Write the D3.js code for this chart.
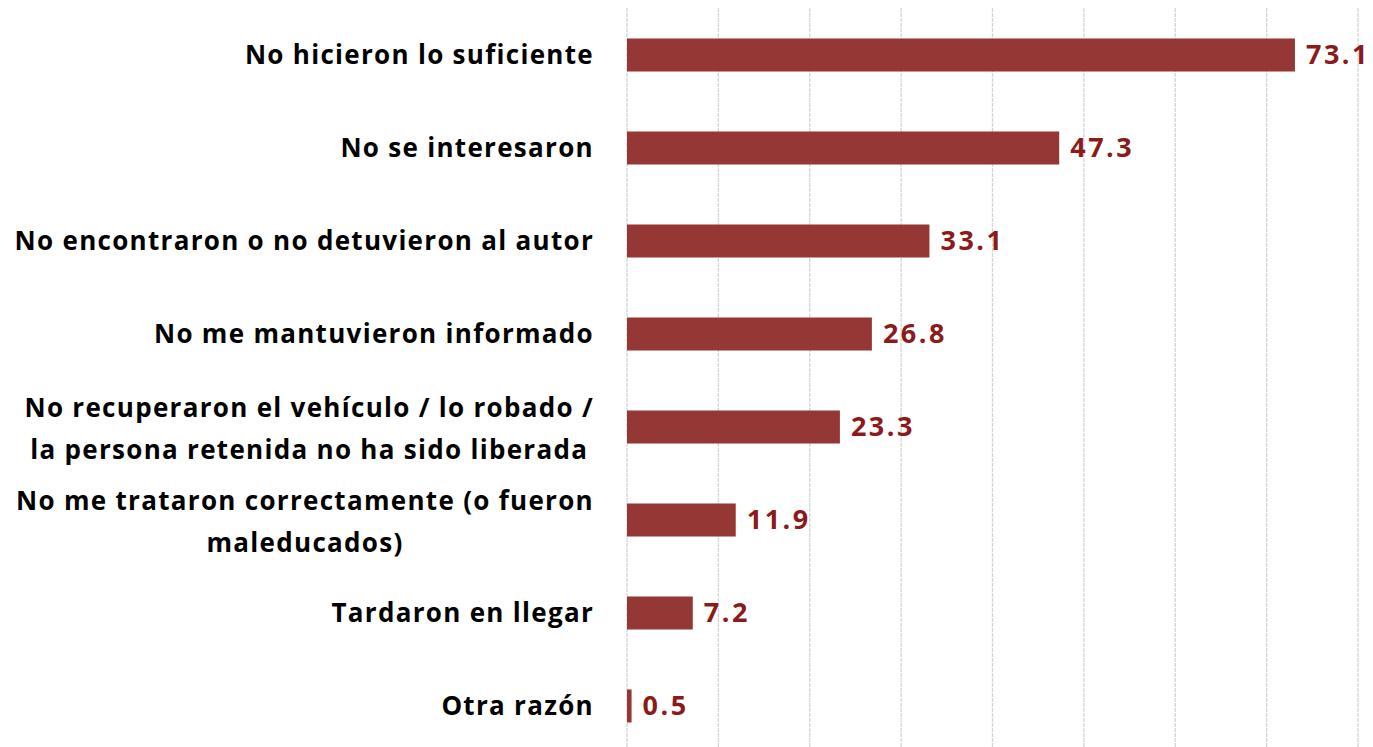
<!DOCTYPE html>
<html>
<head>
<meta charset="utf-8">
<script src="https://cdn.jsdelivr.net/npm/d3@7"></script>
<style>
  body { margin: 0; background: #fff; }
  text { font-family: "Open Sans", Lato, sans-serif; font-weight: bold; }
</style>
</head>
<body>
<div id="chart"></div>
<script>
// data
var categories = [
  ["No hicieron lo suficiente"],
  ["No se interesaron"],
  ["No encontraron o no detuvieron al autor"],
  ["No me mantuvieron informado"],
  ["No recuperaron el vehículo / lo robado /", "la persona retenida no ha sido liberada"],
  ["No me trataron correctamente (o fueron", "maleducados)"],
  ["Tardaron en llegar"],
  ["Otra razón"]
];
var values = [73.1, 47.3, 33.1, 26.8, 23.3, 11.9, 7.2, 0.5];
var gridTicks = [0, 10, 20, 30, 40, 50, 60, 70, 80];

var svgWidth = 1373;
var svgHeight = 747;

var margin = { top: 8, right: 15, bottom: 0, left: 627 };

var svg = d3.select("#chart")
  .append("svg")
  .attr("width", svgWidth)
  .attr("height", svgHeight);

var chartGroup = svg.append("g")
  .attr("transform", `translate(${margin.left}, 0)`);

var xScale = d3.scaleLinear()
  .domain([0, 80])
  .range([0, 731]);

var idx = d3.range(values.length);
var yScale = d3.scaleBand()
  .domain(idx)
  .range([8.5, 8.5 + 93 * values.length])
  .paddingInner(0.645)
  .paddingOuter(0.3225);

// gridlines
chartGroup.selectAll("line.grid")
  .data(gridTicks)
  .enter()
  .append("line")
  .attr("class", "grid")
  .attr("x1", d => xScale(d))
  .attr("x2", d => xScale(d))
  .attr("y1", margin.top)
  .attr("y2", svgHeight)
  .attr("stroke", "#d4d4d4")
  .attr("stroke-width", 1.3)
  .attr("stroke-dasharray", "4,1");

// bars
chartGroup.selectAll("rect.bar")
  .data(idx)
  .enter()
  .append("rect")
  .attr("class", "bar")
  .attr("x", xScale(0))
  .attr("y", i => yScale(i))
  .attr("width", i => xScale(values[i]) - xScale(0))
  .attr("height", yScale.bandwidth())
  .attr("fill", "#953735");

// value labels
chartGroup.selectAll("text.val")
  .data(idx)
  .enter()
  .append("text")
  .attr("class", "val")
  .attr("x", i => xScale(values[i]) + 11)
  .attr("y", i => yScale(i) + yScale.bandwidth() / 2)
  .attr("dy", "0.33em")
  .attr("font-size", "27px")
  .attr("letter-spacing", "2.5px")
  .attr("fill", "#8b1a1a")
  .text(i => values[i].toFixed(1));

// category labels (multi-line ones centred in their block)
var labelRight = 594;
var lineH = 42;
var labels = svg.selectAll("g.cat")
  .data(idx)
  .enter()
  .append("g")
  .attr("class", "cat");

labels.each(function(i) {
  var g = d3.select(this);
  var lines = categories[i];
  var cy = yScale(i) + yScale.bandwidth() / 2 + (lines.length > 1 ? 2 : 0);
  var texts = g.selectAll("text")
    .data(lines)
    .enter()
    .append("text")
    .attr("font-size", "26px")
    .attr("letter-spacing", "1.3px")
    .attr("fill", "#000")
    .attr("y", (d, k) => cy + (k - (lines.length - 1) / 2) * lineH)
    .attr("dy", "0.33em")
    .text(d => d);
  var maxW = 0;
  texts.each(function() { maxW = Math.max(maxW, this.getComputedTextLength()); });
  texts.attr("text-anchor", "middle")
    .attr("x", labelRight - maxW / 2);
});
</script>
</body>
</html>
